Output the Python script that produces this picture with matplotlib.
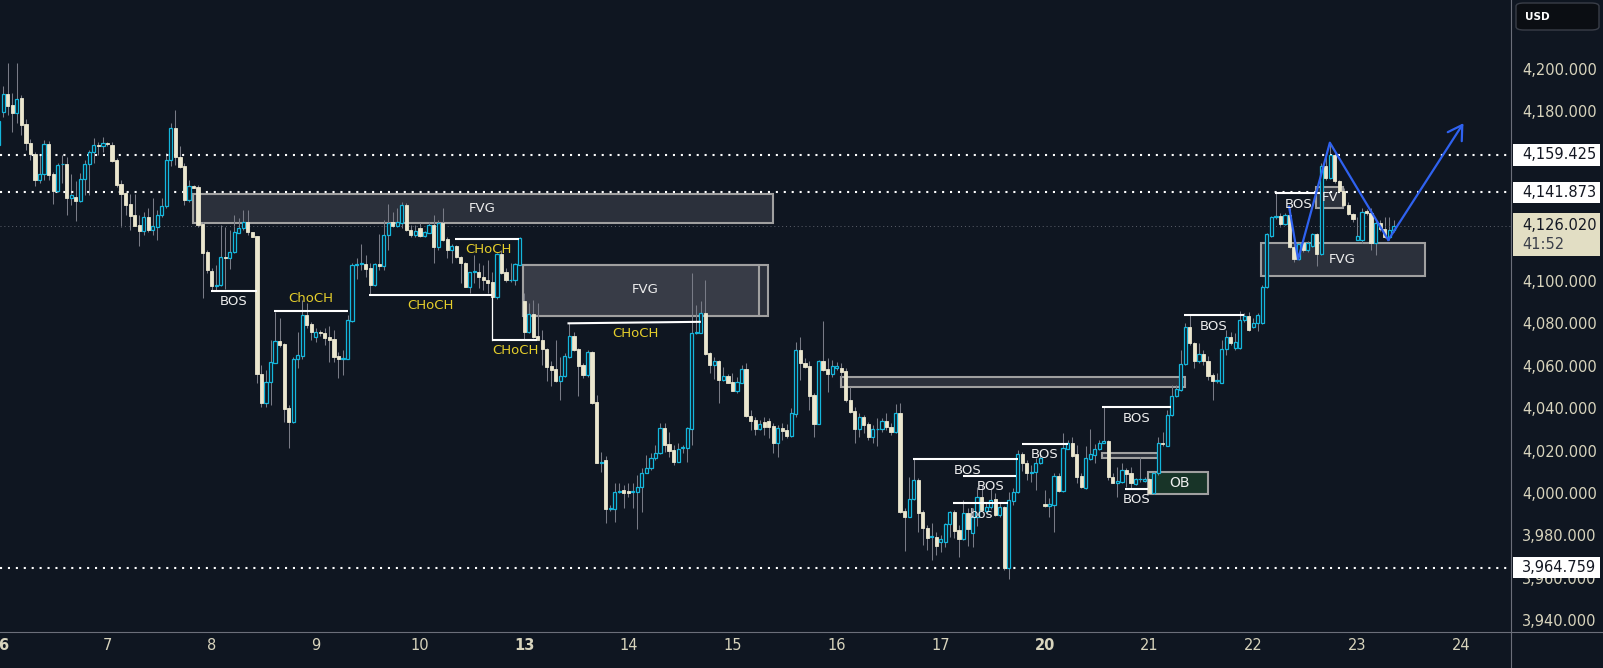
import numpy as np
import matplotlib.pyplot as plt
import matplotlib.transforms as mtransforms
from matplotlib.patches import Rectangle, FancyBboxPatch
from matplotlib.lines import Line2D
from matplotlib.colors import to_rgba

# ==========================
# DATA  (XAUUSD, 1h bars)
# ==========================
opens = [
    4164.2, 4179.9, 4188.2, 4183.0, 4179.1, 4186.2, 4174.1, 4164.9, 4159.7, 4147.6,
    4150.3, 4164.6, 4150.5, 4142.6, 4155.0, 4155.2, 4139.3, 4139.8, 4137.9, 4148.0,
    4155.2, 4161.0, 4164.2, 4163.4, 4164.9, 4164.2, 4157.0, 4145.6, 4141.3, 4136.3,
    4131.1, 4126.4, 4123.7, 4130.0, 4124.1, 4125.6, 4131.0, 4135.1, 4157.1, 4172.0,
    4158.3, 4154.2, 4138.2, 4144.8, 4144.5, 4126.9, 4113.7, 4104.9, 4097.6, 4098.0,
    4111.2, 4110.7, 4113.8, 4122.8, 4124.8, 4127.7, 4123.0, 4121.2, 4056.1, 4042.6,
    4052.1, 4061.5, 4071.7, 4070.3, 4039.9, 4033.6, 4063.0, 4064.8, 4084.0, 4079.7,
    4073.7, 4075.8, 4075.3, 4073.7, 4072.6, 4064.6, 4063.2, 4063.4, 4081.3, 4107.5,
    4107.9, 4108.0, 4106.0, 4098.1, 4108.0, 4106.8, 4121.5, 4127.7, 4126.1, 4127.2,
    4135.8, 4124.1, 4121.7, 4124.8, 4121.2, 4122.8, 4126.4, 4115.9, 4127.2, 4120.0,
    4114.6, 4116.5, 4111.2, 4108.3, 4097.3, 4104.1, 4104.1, 4101.7, 4100.5, 4099.5,
    4092.3, 4112.7, 4104.2, 4100.2, 4100.5, 4107.5, 4090.3, 4076.1, 4084.4, 4074.0,
    4072.2, 4067.9, 4059.9, 4058.3, 4053.0, 4055.0, 4064.3, 4074.0, 4067.8, 4060.4,
    4055.7, 4066.7, 4042.8, 4014.3, 4015.3, 3992.3, 3992.3, 4000.3, 4001.4, 4001.1,
    4000.5, 4000.3, 4003.0, 4009.4, 4011.6, 4016.4, 4019.0, 4030.5, 4023.1, 4020.3,
    4014.8, 4021.1, 4021.1, 4030.0, 4075.3, 4075.6, 4084.7, 4065.9, 4060.4, 4062.0,
    4053.3, 4055.2, 4052.5, 4048.3, 4052.0, 4058.3, 4036.3, 4034.4, 4030.0, 4033.6,
    4034.1, 4031.6, 4023.7, 4030.5, 4029.7, 4026.9, 4037.3, 4067.5, 4061.5, 4059.9,
    4046.2, 4032.5, 4062.0, 4058.5, 4056.1, 4058.8, 4058.8, 4057.5, 4043.9, 4038.7,
    4030.3, 4035.7, 4032.5, 4026.3, 4030.0, 4030.0, 4034.1, 4031.3, 4028.5, 4037.6,
    3991.5, 3988.8, 3997.0, 4006.1, 3991.0, 3983.6, 3979.1, 3979.4, 3977.0, 3977.0,
    3985.2, 3990.9, 3982.5, 3978.1, 3990.4, 3981.0, 3988.8, 3998.3, 3991.7, 3993.2,
    3997.0, 3989.6, 3993.2, 3964.5, 3996.0, 4000.2, 4018.4, 4014.3, 4009.3, 4010.1,
    4014.3, 3994.8, 3993.6, 3994.5, 4008.0, 4001.1, 4020.9, 4023.4, 4018.4, 4008.2,
    4002.2, 4015.9, 4017.9, 4020.8, 4023.4, 4024.4, 4007.7, 4004.9, 4005.3, 4010.8,
    4009.3, 4004.2, 4006.4, 4005.8, 4006.4, 3999.8, 4009.3, 4023.7, 4022.2, 4036.8,
    4045.8, 4048.6, 4060.8, 4078.1, 4070.9, 4062.0, 4065.6, 4062.0, 4055.7, 4053.0,
    4052.0, 4067.8, 4073.4, 4068.2, 4068.2, 4081.6, 4083.6, 4078.1, 4080.0, 4080.0,
    4097.0, 4121.2, 4130.3, 4130.7, 4126.9, 4131.1, 4116.2, 4110.2, 4117.8, 4114.6,
    4116.7, 4122.2, 4112.7, 4154.2, 4148.4, 4159.4, 4146.9, 4142.6, 4135.8, 4131.6,
    4119.3, 4119.3, 4133.2, 4131.9, 4117.8, 4127.5, 4124.4, 4120.6, 4124.1,
]
highs = [
    4178.0, 4191.7, 4202.7, 4188.8, 4203.0, 4187.7, 4176.3, 4166.8, 4161.0, 4159.4,
    4166.5, 4166.0, 4151.6, 4155.5, 4159.4, 4158.3, 4150.3, 4147.2, 4150.8, 4157.1,
    4161.8, 4167.3, 4165.7, 4168.1, 4165.7, 4165.7, 4157.9, 4147.6, 4142.1, 4141.0,
    4141.0, 4131.1, 4132.7, 4134.3, 4139.0, 4133.5, 4139.0, 4160.2, 4174.4, 4180.7,
    4163.7, 4155.5, 4147.6, 4145.3, 4145.3, 4128.0, 4114.6, 4106.0, 4107.5, 4126.4,
    4125.6, 4124.1, 4131.1, 4129.6, 4133.5, 4133.5, 4123.3, 4121.2, 4060.4, 4058.0,
    4072.2, 4085.5, 4082.4, 4070.9, 4041.5, 4064.3, 4076.1, 4091.0, 4089.5, 4080.8,
    4077.7, 4077.0, 4077.7, 4078.5, 4077.0, 4066.7, 4067.5, 4084.0, 4108.3, 4110.7,
    4117.5, 4112.3, 4108.3, 4108.3, 4122.2, 4128.8, 4136.3, 4132.7, 4134.3, 4137.4,
    4136.6, 4126.4, 4126.4, 4127.5, 4123.7, 4128.0, 4131.1, 4128.8, 4134.3, 4120.6,
    4117.5, 4117.0, 4111.8, 4109.1, 4104.4, 4112.3, 4108.3, 4107.5, 4109.9, 4104.4,
    4113.4, 4114.6, 4106.0, 4108.3, 4108.6, 4120.6, 4094.2, 4089.5, 4091.0, 4089.5,
    4076.9, 4068.2, 4062.4, 4072.2, 4064.3, 4065.9, 4080.0, 4076.1, 4068.2, 4061.2,
    4067.5, 4067.1, 4046.3, 4019.5, 4017.5, 3994.3, 4004.6, 4004.6, 4003.8, 4004.9,
    4004.6, 4008.5, 4011.6, 4017.9, 4018.7, 4022.6, 4033.2, 4032.9, 4028.9, 4022.6,
    4023.4, 4022.6, 4031.3, 4103.6, 4088.7, 4090.3, 4100.5, 4066.7, 4064.3, 4062.8,
    4059.6, 4056.1, 4056.4, 4054.9, 4060.4, 4061.2, 4039.2, 4035.9, 4034.4, 4035.9,
    4035.3, 4032.9, 4032.1, 4033.2, 4032.5, 4039.9, 4071.4, 4073.7, 4063.5, 4062.0,
    4047.0, 4062.7, 4081.3, 4063.5, 4062.7, 4061.9, 4061.2, 4058.8, 4049.8, 4040.7,
    4037.6, 4036.8, 4033.6, 4032.1, 4035.2, 4035.2, 4037.6, 4032.9, 4042.0, 4042.6,
    3992.8, 4007.7, 4016.4, 4006.9, 3992.0, 3984.9, 3985.7, 3981.8, 3980.2, 3986.0,
    3991.7, 3992.0, 3984.9, 3996.7, 3992.8, 3992.8, 4003.0, 4003.8, 3995.1, 4002.2,
    3999.8, 3995.9, 3993.6, 4000.6, 4002.2, 4020.3, 4019.5, 4015.6, 4013.2, 4016.4,
    4018.4, 4001.4, 3997.5, 4009.3, 4009.6, 4028.1, 4025.0, 4026.6, 4022.6, 4009.3,
    4021.9, 4030.0, 4023.1, 4025.0, 4040.3, 4025.0, 4009.3, 4012.4, 4014.0, 4011.6,
    4012.4, 4006.9, 4017.1, 4007.7, 4006.9, 4010.1, 4026.6, 4028.9, 4039.2, 4050.9,
    4050.9, 4067.5, 4080.0, 4084.0, 4071.4, 4070.6, 4067.5, 4064.6, 4056.4, 4056.4,
    4072.2, 4076.9, 4076.1, 4075.3, 4086.0, 4084.7, 4085.5, 4082.4, 4084.7, 4098.1,
    4122.8, 4130.7, 4141.7, 4131.9, 4131.9, 4134.3, 4118.6, 4118.1, 4119.3, 4118.6,
    4122.8, 4122.8, 4155.5, 4159.0, 4164.9, 4160.2, 4147.6, 4143.7, 4137.4, 4132.2,
    4130.0, 4134.3, 4133.8, 4134.3, 4128.8, 4128.5, 4130.3, 4130.3, 4128.5,
]
lows = [
    4160.0, 4177.5, 4178.3, 4170.4, 4174.4, 4168.9, 4161.8, 4157.1, 4144.8, 4146.1,
    4147.6, 4147.6, 4136.3, 4142.1, 4146.1, 4131.1, 4135.8, 4128.3, 4137.4, 4140.3,
    4140.6, 4155.5, 4159.4, 4161.0, 4163.4, 4156.3, 4144.5, 4125.6, 4131.1, 4124.1,
    4125.9, 4116.5, 4121.7, 4123.3, 4121.7, 4119.3, 4130.3, 4134.3, 4154.2, 4154.7,
    4153.1, 4135.8, 4137.4, 4143.7, 4125.6, 4091.8, 4103.9, 4095.8, 4095.8, 4097.6,
    4096.1, 4105.5, 4113.4, 4122.5, 4124.1, 4121.7, 4120.6, 4051.7, 4040.7, 4040.4,
    4041.5, 4061.2, 4069.0, 4033.3, 4021.4, 4032.8, 4059.1, 4063.0, 4077.7, 4072.2,
    4071.4, 4074.0, 4069.8, 4061.9, 4061.9, 4054.1, 4055.7, 4063.2, 4080.8, 4100.8,
    4105.2, 4102.0, 4093.4, 4097.6, 4105.2, 4105.2, 4114.6, 4125.6, 4125.6, 4124.8,
    4123.7, 4120.6, 4120.6, 4120.6, 4120.6, 4122.5, 4108.6, 4114.6, 4119.0, 4110.7,
    4108.3, 4110.7, 4098.9, 4097.0, 4094.2, 4098.9, 4096.5, 4095.8, 4094.2, 4091.0,
    4091.4, 4103.3, 4099.7, 4099.7, 4098.1, 4107.5, 4072.2, 4075.6, 4073.0, 4071.9,
    4060.4, 4053.0, 4050.2, 4052.5, 4043.6, 4054.7, 4063.5, 4067.1, 4045.8, 4054.1,
    4054.9, 4042.0, 4014.0, 4010.1, 3986.0, 3991.5, 3986.2, 3999.8, 3992.8, 3998.3,
    3992.8, 3982.9, 3991.2, 4009.4, 4010.8, 4015.6, 4018.4, 4019.5, 4017.1, 4013.2,
    4014.5, 4018.7, 4014.8, 4022.6, 4075.0, 4075.3, 4065.1, 4056.8, 4053.6, 4042.3,
    4053.0, 4051.7, 4048.3, 4047.0, 4051.7, 4036.0, 4029.7, 4027.4, 4029.7, 4027.4,
    4025.8, 4019.0, 4016.8, 4025.0, 4025.8, 4026.6, 4036.0, 4053.3, 4058.8, 4039.2,
    4026.6, 4032.5, 4057.7, 4047.8, 4054.9, 4058.0, 4054.9, 4043.1, 4037.6, 4023.4,
    4026.6, 4028.1, 4025.0, 4023.7, 4022.2, 4028.9, 4029.7, 4027.4, 4028.1, 3990.7,
    3972.8, 3988.5, 3996.7, 3981.8, 3975.5, 3973.1, 3968.4, 3970.8, 3972.3, 3974.4,
    3979.1, 3978.6, 3970.0, 3977.8, 3975.0, 3974.7, 3984.4, 3991.7, 3990.4, 3992.3,
    3989.2, 3988.8, 3963.7, 3959.3, 3994.3, 3999.8, 4010.4, 4006.1, 4005.3, 4001.4,
    4013.7, 3993.2, 3988.8, 3981.8, 4000.6, 4000.6, 4020.6, 4017.1, 4004.9, 4002.2,
    4001.7, 4015.6, 4014.0, 4020.3, 4023.4, 4006.1, 4004.6, 3998.3, 4004.9, 4003.0,
    4002.2, 4003.8, 4005.3, 4005.3, 3999.5, 3999.5, 4008.5, 4021.9, 4021.9, 4036.3,
    4045.4, 4048.3, 4060.4, 4069.8, 4058.8, 4061.2, 4060.4, 4053.3, 4043.9, 4051.7,
    4051.7, 4065.1, 4069.8, 4067.5, 4067.8, 4080.8, 4076.6, 4077.7, 4076.6, 4079.7,
    4096.5, 4120.9, 4129.1, 4125.6, 4126.4, 4115.4, 4109.1, 4109.9, 4113.8, 4113.8,
    4116.2, 4106.8, 4112.3, 4147.6, 4148.0, 4146.4, 4142.1, 4135.4, 4131.1, 4128.0,
    4119.3, 4117.8, 4131.1, 4114.6, 4112.3, 4123.7, 4120.1, 4119.3, 4123.3,
]
closes = [
    4175.5, 4188.2, 4182.7, 4179.4, 4185.7, 4173.6, 4164.9, 4159.7, 4147.6, 4150.3,
    4164.5, 4150.0, 4142.6, 4154.6, 4155.1, 4139.3, 4140.6, 4137.9, 4148.0, 4155.2,
    4161.0, 4164.2, 4163.8, 4164.9, 4164.5, 4156.6, 4145.3, 4141.0, 4135.8, 4130.8,
    4125.9, 4123.7, 4130.0, 4124.1, 4125.9, 4131.0, 4135.4, 4157.1, 4172.0, 4158.3,
    4153.9, 4138.2, 4144.8, 4144.0, 4126.4, 4113.4, 4105.2, 4097.6, 4098.0, 4111.2,
    4111.0, 4113.8, 4123.0, 4125.0, 4127.7, 4123.0, 4120.9, 4056.1, 4042.6, 4052.4,
    4061.6, 4071.7, 4069.8, 4039.6, 4033.6, 4063.2, 4065.1, 4084.0, 4079.2, 4076.1,
    4075.8, 4075.6, 4073.3, 4072.2, 4064.3, 4063.2, 4063.6, 4081.6, 4107.5, 4107.7,
    4107.9, 4105.7, 4098.1, 4108.0, 4106.8, 4121.7, 4127.2, 4126.1, 4128.0, 4135.8,
    4124.1, 4121.7, 4123.6, 4121.2, 4123.1, 4126.4, 4115.9, 4127.2, 4119.3, 4114.6,
    4116.5, 4111.2, 4108.3, 4097.3, 4104.1, 4104.2, 4101.7, 4100.2, 4099.2, 4092.3,
    4112.7, 4103.9, 4100.2, 4100.6, 4107.9, 4120.1, 4076.1, 4084.4, 4073.4, 4071.9,
    4067.9, 4059.6, 4058.0, 4053.0, 4055.2, 4064.6, 4074.0, 4067.5, 4059.9, 4055.7,
    4066.7, 4042.6, 4014.3, 4014.8, 3992.3, 3992.8, 4000.3, 4001.1, 3999.8, 3999.8,
    4000.5, 4003.0, 4009.6, 4011.6, 4016.4, 4019.0, 4030.5, 4022.6, 4020.0, 4014.8,
    4020.6, 4021.1, 4030.5, 4075.3, 4075.8, 4084.7, 4065.6, 4060.4, 4062.0, 4053.3,
    4055.2, 4052.0, 4048.3, 4052.2, 4058.3, 4036.3, 4034.1, 4030.0, 4032.5, 4031.3,
    4031.3, 4023.7, 4030.5, 4029.4, 4026.9, 4037.6, 4067.5, 4061.2, 4059.6, 4045.8,
    4032.5, 4062.0, 4058.0, 4056.1, 4059.9, 4059.9, 4057.1, 4043.6, 4038.4, 4030.2,
    4035.7, 4032.1, 4026.6, 4030.0, 4030.0, 4034.1, 4031.0, 4028.5, 4037.6, 3991.2,
    3988.8, 3997.0, 4006.1, 3990.7, 3983.3, 3978.9, 3979.1, 3975.0, 3978.5, 3985.2,
    3990.9, 3982.2, 3978.1, 3990.4, 3982.9, 3988.8, 3998.3, 3992.0, 3993.2, 3996.7,
    3989.6, 3993.2, 3964.5, 3996.7, 4000.2, 4018.4, 4014.0, 4009.3, 4010.1, 4014.3,
    4016.4, 3993.6, 3994.8, 4008.0, 4001.1, 4021.1, 4023.4, 4017.5, 4007.7, 4002.7,
    4016.4, 4018.4, 4020.8, 4023.7, 4024.4, 4007.4, 4004.9, 4005.7, 4010.8, 4009.0,
    4004.6, 4006.4, 4006.5, 4006.4, 3999.8, 4009.3, 4023.7, 4023.1, 4036.8, 4045.8,
    4048.9, 4060.8, 4078.1, 4070.6, 4062.0, 4065.6, 4062.0, 4055.2, 4053.0, 4053.0,
    4067.8, 4073.4, 4070.9, 4071.4, 4081.6, 4083.6, 4076.9, 4080.0, 4084.0, 4097.0,
    4122.2, 4130.0, 4130.3, 4126.9, 4131.1, 4115.9, 4110.2, 4117.5, 4114.6, 4117.8,
    4122.2, 4112.7, 4154.2, 4148.4, 4159.4, 4146.9, 4142.6, 4135.8, 4131.6, 4129.1,
    4121.2, 4132.7, 4131.9, 4117.8, 4127.5, 4124.4, 4120.6, 4124.1, 4126.0,
]

day_labels = ["6", "7", "8", "9", "10", "13", "14", "15", "16", "17",
              "20", "21", "22", "23", "24"]
week_starts = ["6", "13", "20"]
bars_per_day = 23

price_ticks = list(range(3940, 4201, 20))
level_prices = [4159.425, 4141.873, 3964.759]
last_price = 4126.020
countdown = "41:52"

# ==========================
# STYLE
# ==========================
BG = "#0f1621"
CYAN = "#14b6dc"
CREAM = "#ebe7cf"
WICK = "#787b86"
AXIS_TXT = "#d8d4bd"
TXT = "#ededed"
YELLOW = "#e6cf2c"
BOX_FILL = to_rgba("#434651", 0.55)
BOX_EDGE = "#a0a0a0"
BLUE = "#2f62f0"

W, H = 1603, 668
fig = plt.figure(figsize=(W / 100, H / 100), dpi=100, facecolor=BG)
ax = fig.add_axes([0, 36 / H, 1511 / W, 632 / H])
ax.set_facecolor(BG)

# ==========================
# CANDLES
# ==========================
o = np.array(opens)
hi = np.array(highs)
lo = np.array(lows)
c = np.array(closes)
x = np.arange(len(c))
up = c >= o

body_bot = np.minimum(o, c)
body_h = np.maximum(np.abs(c - o), 0.35)

ax.vlines(x, lo, hi, color=WICK, lw=0.75, zorder=2)
ax.bar(x[up], body_h[up], bottom=body_bot[up], width=0.7,
       color=BG, edgecolor=CYAN, linewidth=0.9, zorder=3)
ax.bar(x[~up], body_h[~up], bottom=body_bot[~up], width=0.7,
       color=CREAM, edgecolor=CREAM, linewidth=0.6, zorder=3)

ax.set_xlim(0.27, 333.9)
ax.set_ylim(3934.4, 4232.5)

# ==========================
# LEVELS
# ==========================
for p in level_prices:
    ax.axhline(p, color="white", lw=1.5, linestyle=(0, (1, 2.8)), zorder=2.5)
ax.axhline(last_price, color="#5d616c", lw=0.7, linestyle=(0, (1, 3)), zorder=2.5)


# ==========================
# ZONES / STRUCTURE
# ==========================
def box(b0, b1, p0, p1, face=BOX_FILL):
    ax.add_patch(Rectangle((b0, p0), b1 - b0, p1 - p0, facecolor=face,
                           edgecolor=BOX_EDGE, lw=1.5, zorder=1.5))


def label(b, p, s, color=TXT, size=9.5):
    ax.text(b, p, s, color=color, fontsize=size, ha="center", va="center", zorder=6)


def level(b0, b1, p, lw=1.5):
    ax.plot([b0, b1], [p, p], color="white", lw=lw, zorder=5,
            solid_capstyle="butt")


# fair value gaps
box(42.8, 171.0, 4127.3, 4140.9)
label(106.8, 4134.3, "FVG")
box(115.8, 169.9, 4083.6, 4107.5)
box(115.8, 167.9, 4083.6, 4107.5)
label(142.8, 4096.1, "FVG")
box(185.9, 262.0, 4049.9, 4054.9)
box(243.7, 256.0, 4016.4, 4019.0)
box(290.8, 296.9, 4134.3, 4144.2)
label(293.9, 4139.3, "FV")
box(278.8, 314.9, 4102.4, 4118.1)
label(296.7, 4110.2, "FVG")
box(253.8, 267.1, 3999.5, 4009.9, face="#183428")
label(260.8, 4004.7, "OB", size=10)

# structure breaks
level(46.8, 57.0, 4095.4)
label(51.9, 4090.1, "BOS")
level(60.8, 77.2, 4086.0)
label(68.9, 4091.6, "ChoCH", YELLOW)
level(81.8, 108.8, 4093.4)
label(95.4, 4088.2, "CHoCH", YELLOW)
level(100.7, 114.9, 4120.0)
label(108.1, 4114.6, "CHoCH", YELLOW)
ax.plot([109.0, 109.0], [4092.3, 4072.2], color="white", lw=0.9, zorder=5)
level(109.0, 118.9, 4072.2)
label(114.0, 4067.0, "CHoCH", YELLOW)
ax.plot([125.8, 154.8], [4080.0, 4080.7], color="white", lw=1.5, zorder=5)
label(140.5, 4075.0, "CHoCH", YELLOW)
level(201.9, 225.1, 4016.0)
label(213.9, 4010.8, "BOS")
level(212.8, 224.7, 4008.2)
label(218.9, 4003.0, "BOS")
level(210.8, 222.9, 3995.4)
label(217.0, 3989.6, "bos")
level(225.9, 236.1, 4023.1)
label(231.0, 4017.9, "BOS")
level(243.7, 258.8, 4040.3)
label(251.2, 4034.9, "BOS")
level(248.7, 253.8, 4001.9)
label(251.2, 3996.7, "BOS")
level(261.8, 274.9, 4084.0)
label(268.3, 4078.4, "BOS")
level(281.8, 291.7, 4141.6)
label(286.9, 4136.2, "BOS")

# projected path
path_bars = [284.9, 286.9, 293.9, 306.8, 323.4]
path_prices = [4135.0, 4110.2, 4165.2, 4119.3, 4174.4]
ax.plot(path_bars[:-1], path_prices[:-1], color=BLUE, lw=1.6, zorder=5)
ax.annotate("", xy=(path_bars[-1], path_prices[-1]),
            xytext=(path_bars[-2], path_prices[-2]),
            arrowprops=dict(arrowstyle="->,head_length=0.5,head_width=0.3",
                            color=BLUE, lw=1.6, mutation_scale=20,
                            shrinkA=0, shrinkB=0), zorder=5)

# ==========================
# AXES
# ==========================
for s in ax.spines.values():
    s.set_visible(False)

# scale labels fully covered by a price tag are not shown
covered = [v for v in price_ticks
           if any(abs(v - p) < 2 for p in level_prices)
           or last_price - 14 < v < last_price + 6]
shown_ticks = [v for v in price_ticks if v not in covered or v < 3970]

ax.yaxis.tick_right()
ax.set_yticks(shown_ticks)
ax.set_yticklabels([f"{v:,.3f}" for v in shown_ticks])
ax.tick_params(axis="y", length=0, pad=7.9, labelsize=10.5, labelcolor=AXIS_TXT)

ax.set_xticks([1 + bars_per_day * k for k in range(len(day_labels))])
ax.set_xticklabels(day_labels)
ax.tick_params(axis="x", length=0, pad=4.3, labelsize=10.5, labelcolor=AXIS_TXT)
for t in ax.get_xticklabels():
    if t.get_text() in week_starts:
        t.set_fontweight("bold")

fig.add_artist(Line2D([1511 / W, 1511 / W], [0, 1], color="#6b6f7a", lw=0.8))
fig.add_artist(Line2D([0, 1], [36 / H, 36 / H], color="#6b6f7a", lw=0.8))

# price tags on the scale
trans = mtransforms.blended_transform_factory(ax.transAxes, ax.transData)
tag_x0 = 1512.5 / 1511
tag_w = 87 / 1511
txt_x = 1522 / 1511
for p in level_prices:
    ax.add_patch(Rectangle((tag_x0, p - 5.0), tag_w, 10.0, transform=trans,
                           facecolor="white", edgecolor="none", clip_on=False,
                           zorder=10))
    ax.text(txt_x, p, f"{p:,.3f}", transform=trans, ha="left", va="center",
            fontsize=10.5, color="#131722", zorder=11, clip_on=False)

ax.add_patch(Rectangle((tag_x0, last_price - 14.2), tag_w, 20.3, transform=trans,
                       facecolor="#e2dec4", edgecolor="none", clip_on=False,
                       zorder=10))
ax.text(txt_x, last_price, f"{last_price:,.3f}", transform=trans, ha="left",
        va="center", fontsize=10.5, color="#131722", zorder=11, clip_on=False)
ax.text(txt_x, last_price - 9.0, countdown, transform=trans, ha="left",
        va="center", fontsize=10.5, color="#3b3f4a", zorder=11, clip_on=False)

# currency badge
fig.add_artist(FancyBboxPatch((1516 / W, 1 - 30 / H), 83 / W, 27 / H,
                              boxstyle="round,pad=0,rounding_size=0.005",
                              facecolor="#0b0e13", edgecolor="#3a3e48", lw=1,
                              transform=fig.transFigure))
fig.text(1525 / W, 1 - 16.5 / H, "USD", color="white", fontsize=7.5,
         fontweight="bold", ha="left", va="center")

fig.savefig("out.png", dpi=100, facecolor=BG)
